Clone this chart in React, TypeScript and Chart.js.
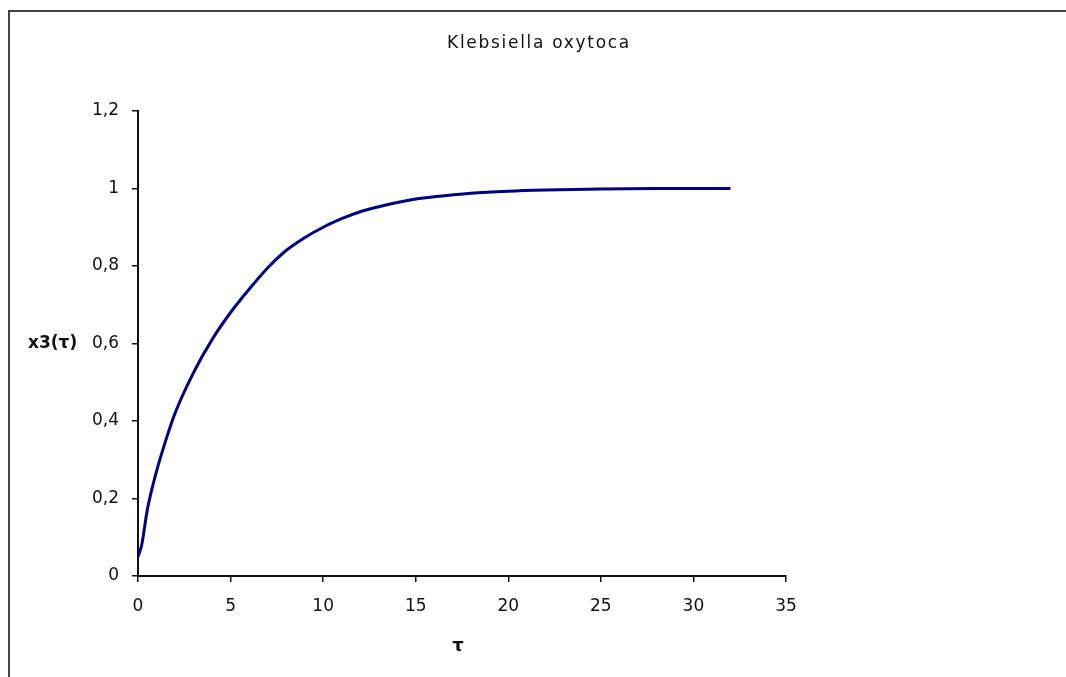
import React, { useEffect, useRef } from "react";
import { Chart, registerables } from "chart.js";

Chart.register(...registerables);

const chartTitle = "Klebsiella oxytoca";
const yAxisTitle = "x3(τ)";
const xAxisTitle = "τ";

const tValues = [0, 0.2, 0.5, 1, 1.5, 2, 3, 4, 5, 6, 7, 8, 9, 10, 11, 12, 13, 14, 15, 16, 18, 20, 22, 25, 28, 32];
const x3Values = [0.05, 0.08, 0.17, 0.27, 0.35, 0.42, 0.525, 0.61, 0.68, 0.74, 0.795, 0.84, 0.873, 0.9, 0.922, 0.94, 0.953, 0.964, 0.973, 0.979, 0.988, 0.993, 0.996, 0.999, 1.0, 1.0];

const FONT = "'DejaVu Sans', Arial, sans-serif";

const textPlugin = {
  id: "texts",
  afterDraw(chart: any) {
    const ctx = chart.ctx as any;
    const ca = chart.chartArea;
    const yScale = chart.scales.y;
    ctx.save();
    ctx.fillStyle = "#111";
    ctx.textBaseline = "middle";
    ctx.font = `17px ${FONT}`;
    ctx.letterSpacing = "1.7px";
    ctx.textAlign = "center";
    ctx.fillText(chartTitle, 539, 44);
    ctx.font = `bold 17px ${FONT}`;
    ctx.letterSpacing = "0px";
    ctx.textAlign = "left";
    ctx.fillText(yAxisTitle, 28, yScale.getPixelForValue(0.6));
    ctx.font = `bold 18px ${FONT}`;
    ctx.textAlign = "center";
    ctx.fillText(xAxisTitle, (ca.left + ca.right) / 2 - 4, 646);
    ctx.restore();
  },
};

export default function App() {
  const ref = useRef<HTMLCanvasElement>(null);
  useEffect(() => {
    const data = tValues.map((t, i) => ({ x: t, y: x3Values[i] }));
    const chart = new Chart(ref.current!, {
      type: "line",
      data: {
        datasets: [
          {
            data,
            borderColor: "#000080",
            borderWidth: 3,
            pointRadius: 0,
            cubicInterpolationMode: "monotone",
            fill: false,
          },
        ],
      },
      options: {
        animation: false,
        responsive: false,
        maintainAspectRatio: false,
        layout: { padding: { left: 0, right: 280, top: 111, bottom: 0 } },
        plugins: { legend: { display: false }, title: { display: false }, tooltip: { enabled: false } },
        scales: {
          x: {
            type: "linear",
            min: 0,
            max: 35,
            afterFit: (s: any) => { s.height = 101; },
            ticks: { stepSize: 5, color: "#111", font: { size: 17, family: FONT }, padding: 14 },
            grid: { display: true, drawOnChartArea: false, drawTicks: true, tickLength: 6, color: "#111", lineWidth: 1.5 },
            border: { display: true, color: "#111", width: 2 },
          },
          y: {
            type: "linear",
            min: 0,
            max: 1.2,
            afterFit: (s: any) => { s.width = 138; },
            ticks: {
              stepSize: 0.2,
              color: "#111",
              font: { size: 17, family: FONT },
              padding: 13,
              callback: (v: any) => String(Math.round(Number(v) * 10) / 10).replace(".", ","),
            },
            grid: { display: true, drawOnChartArea: false, drawTicks: true, tickLength: 6, color: "#111", lineWidth: 1.5 },
            border: { display: true, color: "#111", width: 2 },
          },
        },
      },
      plugins: [textPlugin],
    });
    return () => chart.destroy();
  }, []);
  return (
    <div style={{ position: "absolute", left: 0, top: 0, width: 1066, height: 677, background: "#fff", overflow: "hidden" }}>
      <div style={{ position: "absolute", left: 8, top: 10, width: 1100, height: 700, borderLeft: "2px solid #444", borderTop: "2px solid #444" }} />
      <canvas ref={ref} width={1066} height={677} style={{ position: "absolute", left: 0, top: 0 }} />
    </div>
  );
}
